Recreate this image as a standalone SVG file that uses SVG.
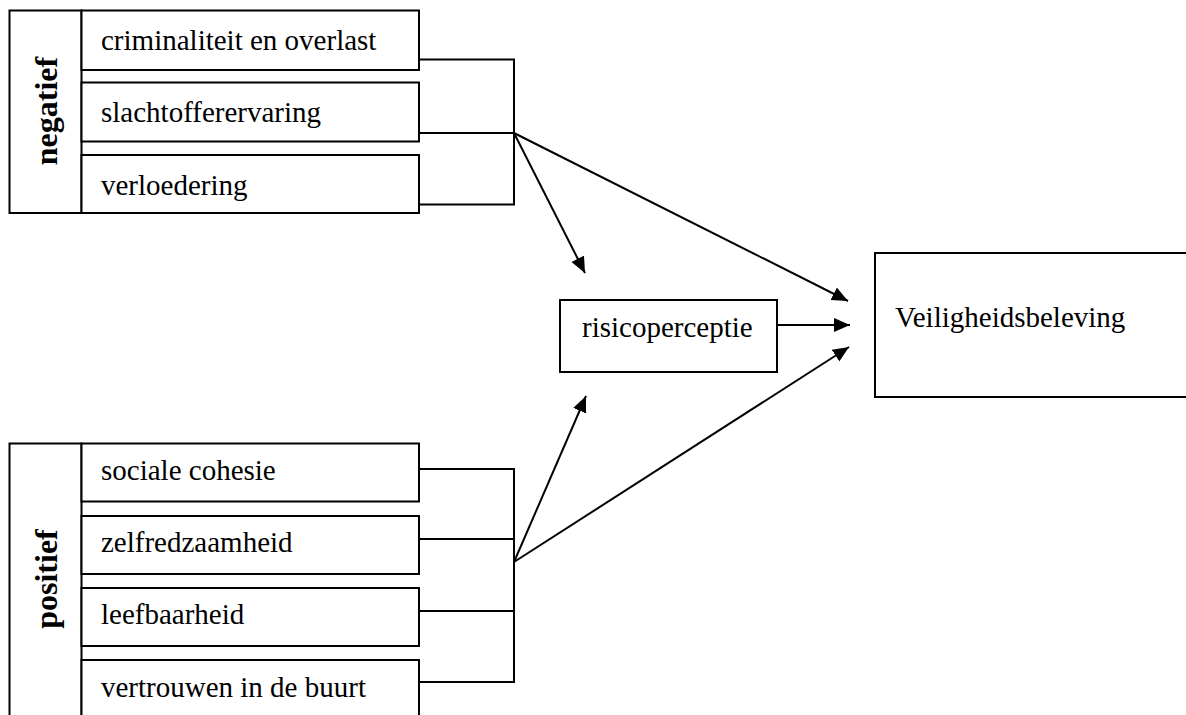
<svg xmlns="http://www.w3.org/2000/svg" width="1186" height="715" viewBox="0 0 1186 715">
  <style>
    .box { fill: #ffffff; stroke: #000000; stroke-width: 2; }
    .lbl { font-family: "Liberation Serif", "Times New Roman", serif; font-size: 29px; fill: #000000; }
    .grp { font-family: "Liberation Serif", "Times New Roman", serif; font-size: 32px; font-weight: bold; fill: #000000; }
    .conn { fill: none; stroke: #000000; stroke-width: 2; }
  </style>
  <defs>
    <marker id="arrow" markerUnits="userSpaceOnUse" markerWidth="17" markerHeight="15" refX="16" refY="7" orient="auto">
      <path d="M0,0 L16,7 L0,14 Z" fill="#000000"/>
    </marker>
  </defs>
  <rect width="1186" height="715" fill="#ffffff"/>

  <g id="group-negatief">
    <rect class="box" x="9.5" y="10.5" width="72" height="202.5"/>
    <text class="grp" transform="translate(57,111) rotate(-90)" text-anchor="middle">negatief</text>
  </g>
  <g id="node-criminaliteit">
    <rect class="box" x="81.5" y="10.5" width="337.5" height="59.5"/>
    <text class="lbl" x="101" y="50">criminaliteit en overlast</text>
  </g>
  <g id="node-slachtoffer">
    <rect class="box" x="81.5" y="82.5" width="337.5" height="59"/>
    <text class="lbl" x="101" y="122">slachtofferervaring</text>
  </g>
  <g id="node-verloedering">
    <rect class="box" x="81.5" y="155" width="337.5" height="58"/>
    <text class="lbl" x="101" y="195">verloedering</text>
  </g>

  <g id="group-positief">
    <rect class="box" x="9.5" y="443.5" width="72" height="290"/>
    <text class="grp" transform="translate(57,579) rotate(-90)" text-anchor="middle">positief</text>
  </g>
  <g id="node-sociale-cohesie">
    <rect class="box" x="81.5" y="443.5" width="337.5" height="58"/>
    <text class="lbl" x="101" y="480">sociale cohesie</text>
  </g>
  <g id="node-zelfredzaamheid">
    <rect class="box" x="81.5" y="516" width="337.5" height="58"/>
    <text class="lbl" x="101" y="552">zelfredzaamheid</text>
  </g>
  <g id="node-leefbaarheid">
    <rect class="box" x="81.5" y="588" width="337.5" height="58"/>
    <text class="lbl" x="101" y="624">leefbaarheid</text>
  </g>
  <g id="node-vertrouwen">
    <rect class="box" x="81.5" y="660" width="337.5" height="80"/>
    <text class="lbl" x="101" y="697">vertrouwen in de buurt</text>
  </g>

  <g id="node-risicoperceptie">
    <rect class="box" x="560" y="300" width="217" height="72"/>
    <text class="lbl" x="582" y="337">risicoperceptie</text>
  </g>
  <g id="node-veiligheidsbeleving">
    <rect class="box" x="875" y="253" width="320" height="144"/>
    <text class="lbl" x="895" y="327">Veiligheidsbeleving</text>
  </g>

  <g id="connectors">
    <polyline class="conn" points="419,59.5 514,59.5 514,204.5 419,204.5"/>
    <line class="conn" x1="419" y1="133" x2="514" y2="133"/>
    <polyline class="conn" points="419,469 514,469 514,682 419,682"/>
    <line class="conn" x1="419" y1="539" x2="514" y2="539"/>
    <line class="conn" x1="419" y1="611" x2="514" y2="611"/>
    <line class="conn" x1="514" y1="133" x2="585" y2="273" marker-end="url(#arrow)"/>
    <line class="conn" x1="514" y1="133" x2="848" y2="301" marker-end="url(#arrow)"/>
    <line class="conn" x1="778" y1="325" x2="850" y2="325" marker-end="url(#arrow)"/>
    <line class="conn" x1="514" y1="562" x2="586" y2="396" marker-end="url(#arrow)"/>
    <line class="conn" x1="514" y1="562" x2="849" y2="347" marker-end="url(#arrow)"/>
  </g>
</svg>
